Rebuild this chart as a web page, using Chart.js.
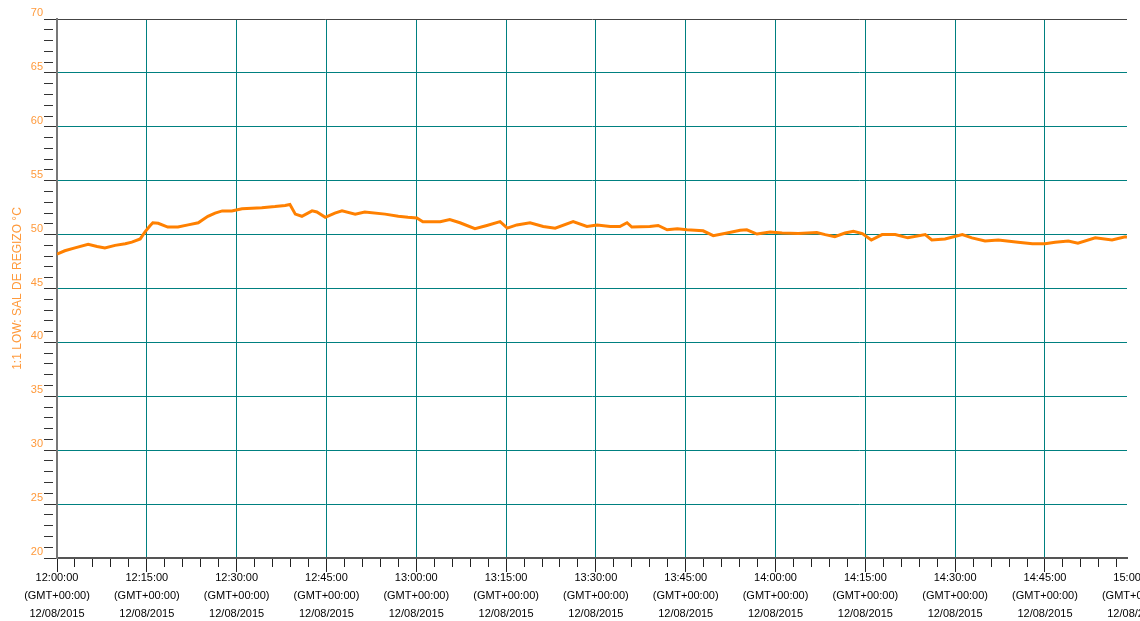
<!DOCTYPE html>
<html>
<head>
<meta charset="utf-8">
<title>1:1 LOW: SAL DE REGIZO</title>
<script src="https://cdn.jsdelivr.net/npm/chart.js@4/dist/chart.umd.min.js"></script>
<style>
  html, body { margin: 0; padding: 0; background: #fff; overflow: hidden; }
  #wrap { position: relative; width: 1140px; height: 621px; }
</style>
</head>
<body>
<div id="wrap"><canvas id="chart-temp"></canvas></div>
<script>
'use strict';

// minutes after 12:00:00
var minutes = [
  0, 1.3, 3.0, 5.2, 6.7, 8.0, 9.7, 11.4, 12.5, 13.9, 14.7, 15.5, 16.0, 16.9, 18.5,
  20.2, 21.9, 23.6, 24.4, 25.2, 26.4, 27.6, 29.2, 30.9, 34.2, 36.4, 38.1, 38.9, 39.8,
  40.9, 42.6, 43.4, 44.8, 46.4, 47.6, 49.8, 51.4, 54.8, 57.0, 58.6, 60.1, 61.1, 64.0,
  65.6, 67.3, 69.8, 71.8, 74.0, 75.2, 76.8, 79.0, 81.2, 83.2, 86.2, 88.5, 90.2, 92.4,
  94.0, 95.2, 96.0, 99.0, 100.4, 101.9, 103.6, 105.2, 107.9, 109.6, 111.9, 114.1,
  115.2, 116.9, 119.1, 121.1, 123.8, 126.9, 128.3, 129.9, 131.6, 133.0, 134.5, 136.0,
  137.8, 140.0, 142.1, 145.0, 146.1, 148.3, 151.2, 152.8, 155.0, 157.2, 160.5, 162.9,
  165.0, 166.7, 168.9, 170.5, 173.4, 176.2, 178.4, 178.7
];

// 1:1 LOW: SAL DE REGIZO, degrees C
var temps = [
  48.2, 48.5, 48.77, 49.1, 48.9, 48.75, 49.0, 49.15, 49.3, 49.6, 50.25, 50.8, 51.1, 51.05, 50.7,
  50.7, 50.9, 51.1, 51.4, 51.7, 52.0, 52.2, 52.2, 52.4, 52.5, 52.6, 52.7, 52.8, 51.9,
  51.7, 52.2, 52.1, 51.6, 52.0, 52.2, 51.9, 52.1, 51.9, 51.7, 51.6, 51.55, 51.2, 51.2,
  51.4, 51.1, 50.55, 50.85, 51.2, 50.6, 50.9, 51.1, 50.75, 50.6, 51.2, 50.75, 50.9, 50.75,
  50.75, 51.1, 50.7, 50.75, 50.85, 50.45, 50.55, 50.45, 50.35, 49.9, 50.15, 50.4,
  50.45, 50.05, 50.25, 50.15, 50.1, 50.2, 50.0, 49.8, 50.15, 50.3, 50.1, 49.5,
  50.0, 50.0, 49.7, 50.0, 49.5, 49.6, 50.0, 49.7, 49.4, 49.5, 49.3, 49.15,
  49.15, 49.3, 49.4, 49.2, 49.7, 49.5, 49.8, 49.75
];

var timeLabels = ['12:00:00', '12:15:00', '12:30:00', '12:45:00', '13:00:00', '13:15:00', '13:30:00',
  '13:45:00', '14:00:00', '14:15:00', '14:30:00', '14:45:00', '15:00:00'];
var zoneLabel = '(GMT+00:00)';
var dateLabel = '12/08/2015';
var yTitle = '1:1 LOW: SAL DE REGIZO °C';

var X_MAX = 178.7;
var TEAL = '#008080';
var ORANGE = '#ff9a3c';

var points = minutes.map(function(m, i) { return { x: m, y: temps[i] }; });

new Chart(document.getElementById('chart-temp'), {
  type: 'line',
  data: {
    datasets: [{
      data: points,
      borderColor: '#ff8000',
      borderWidth: 3,
      pointRadius: 0,
      tension: 0,
      fill: false
    }]
  },
  options: {
    responsive: true,
    maintainAspectRatio: false,
    animation: false,
    layout: { padding: { top: 19, right: 13, left: 0, bottom: 0 } },
    plugins: { legend: { display: false }, tooltip: { enabled: false } },
    scales: {
      x: {
        type: 'linear',
        min: 0,
        max: X_MAX,
        bounds: 'data',
        border: { color: '#555', width: 2 },
        grid: {
          color: function(c) {
            var v = c.tick && c.tick.value;
            return (v > 0 && v <= X_MAX && v % 15 === 0) ? TEAL : 'rgba(0,0,0,0)';
          },
          tickColor: function(c) { return c.tick && c.tick.value > X_MAX ? 'rgba(0,0,0,0)' : '#222'; },
          tickLength: 14,
          tickBorderDash: function(c) { return c.tick && c.tick.value % 15 === 0 ? [] : [8, 40]; }
        },
        ticks: {
          stepSize: 3,
          includeBounds: false,
          autoSkip: false,
          maxRotation: 0,
          padding: -3,
          color: '#000',
          font: { family: 'Liberation Sans, Arial, sans-serif', size: 11, lineHeight: '18px' },
          callback: function(v) {
            if (v % 15 !== 0) return '';
            return [timeLabels[v / 15], zoneLabel, dateLabel];
          }
        },
        // 15:00 sits just past the right edge, its label gets cut by the window
        afterBuildTicks: function(scale) { scale.ticks.push({ value: 180 }); },
        afterFit: function(scale) {
          scale.height = 63;
          scale.paddingLeft = 0;
          scale.paddingRight = 0;
        }
      },
      y: {
        min: 20,
        max: 70,
        bounds: 'data',
        border: { color: '#777', width: 2 },
        grid: {
          color: function(c) {
            var v = c.tick && c.tick.value;
            if (v === 70) return '#444';
            return (v > 20 && v % 5 === 0) ? TEAL : 'rgba(0,0,0,0)';
          },
          tickColor: '#333',
          tickLength: 13,
          tickBorderDash: function(c) { return c.tick && c.tick.value % 5 === 0 ? [] : [9, 40]; }
        },
        ticks: {
          stepSize: 1,
          autoSkip: false,
          padding: 1,
          labelOffset: -6,
          color: ORANGE,
          font: { family: 'Liberation Sans, Arial, sans-serif', size: 11 },
          callback: function(v) { return v % 5 === 0 ? String(v) : ''; }
        },
        title: {
          display: true,
          text: yTitle,
          color: ORANGE,
          padding: { top: 10, bottom: 0 },
          font: { family: 'Liberation Sans, Arial, sans-serif', size: 12 }
        },
        afterFit: function(scale) {
          scale.width = 57;
          scale.paddingTop = 0;
          scale.paddingBottom = 0;
        }
      }
    }
  }
});
</script>
</body>
</html>
